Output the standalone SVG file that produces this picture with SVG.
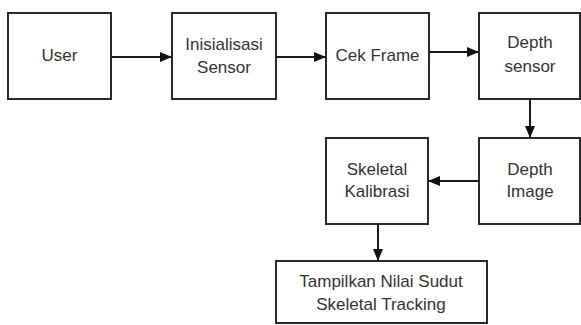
<svg xmlns="http://www.w3.org/2000/svg" width="581" height="325" viewBox="0 0 581 325">
  <style>
    .box { fill: #ffffff; stroke: #2a2a2a; stroke-width: 2; }
    .lbl { font-family: "Liberation Sans", Arial, sans-serif; font-size: 17px; fill: #333333; text-anchor: middle; }
    .edge { fill: none; stroke: #1a1a1a; stroke-width: 2; }
  </style>
  <defs>
    <marker id="arrow" markerWidth="12" markerHeight="10" refX="12" refY="5" orient="auto" markerUnits="userSpaceOnUse">
      <path d="M0,0 L12,5 L0,10 Z" fill="#111111"/>
    </marker>
  </defs>
  <rect width="581" height="325" fill="#ffffff"/>

  <g id="node-user">
    <rect class="box" x="8" y="13" width="103" height="86"/>
    <text class="lbl" x="59.5" y="61">User</text>
  </g>
  <g id="node-inisialisasi">
    <rect class="box" x="172" y="13" width="104" height="86"/>
    <text class="lbl" x="224" y="50">Inisialisasi</text>
    <text class="lbl" x="224" y="73">Sensor</text>
  </g>
  <g id="node-cek-frame">
    <rect class="box" x="326" y="13" width="103" height="86"/>
    <text class="lbl" x="377.5" y="61">Cek Frame</text>
  </g>
  <g id="node-depth-sensor">
    <rect class="box" x="479" y="13" width="101" height="86"/>
    <text class="lbl" x="530" y="48">Depth</text>
    <text class="lbl" x="530" y="72">sensor</text>
  </g>
  <g id="node-depth-image">
    <rect class="box" x="479" y="138" width="101" height="86"/>
    <text class="lbl" x="530" y="175">Depth</text>
    <text class="lbl" x="530" y="197">Image</text>
  </g>
  <g id="node-skeletal-kalibrasi">
    <rect class="box" x="326" y="138" width="102" height="86"/>
    <text class="lbl" x="377" y="175">Skeletal</text>
    <text class="lbl" x="377" y="197">Kalibrasi</text>
  </g>
  <g id="node-tampilkan">
    <rect class="box" x="276" y="261" width="211" height="62"/>
    <text class="lbl" x="381" y="287">Tampilkan Nilai Sudut</text>
    <text class="lbl" x="381" y="310">Skeletal Tracking</text>
  </g>

  <g id="connectors">
    <line class="edge" x1="111" y1="57" x2="172" y2="57" marker-end="url(#arrow)"/>
    <line class="edge" x1="276" y1="57" x2="326" y2="57" marker-end="url(#arrow)"/>
    <line class="edge" x1="429" y1="52" x2="479" y2="52" marker-end="url(#arrow)"/>
    <line class="edge" x1="530" y1="99" x2="530" y2="138" marker-end="url(#arrow)"/>
    <line class="edge" x1="479" y1="181" x2="428" y2="181" marker-end="url(#arrow)"/>
    <line class="edge" x1="378" y1="224" x2="378" y2="261" marker-end="url(#arrow)"/>
  </g>
</svg>
